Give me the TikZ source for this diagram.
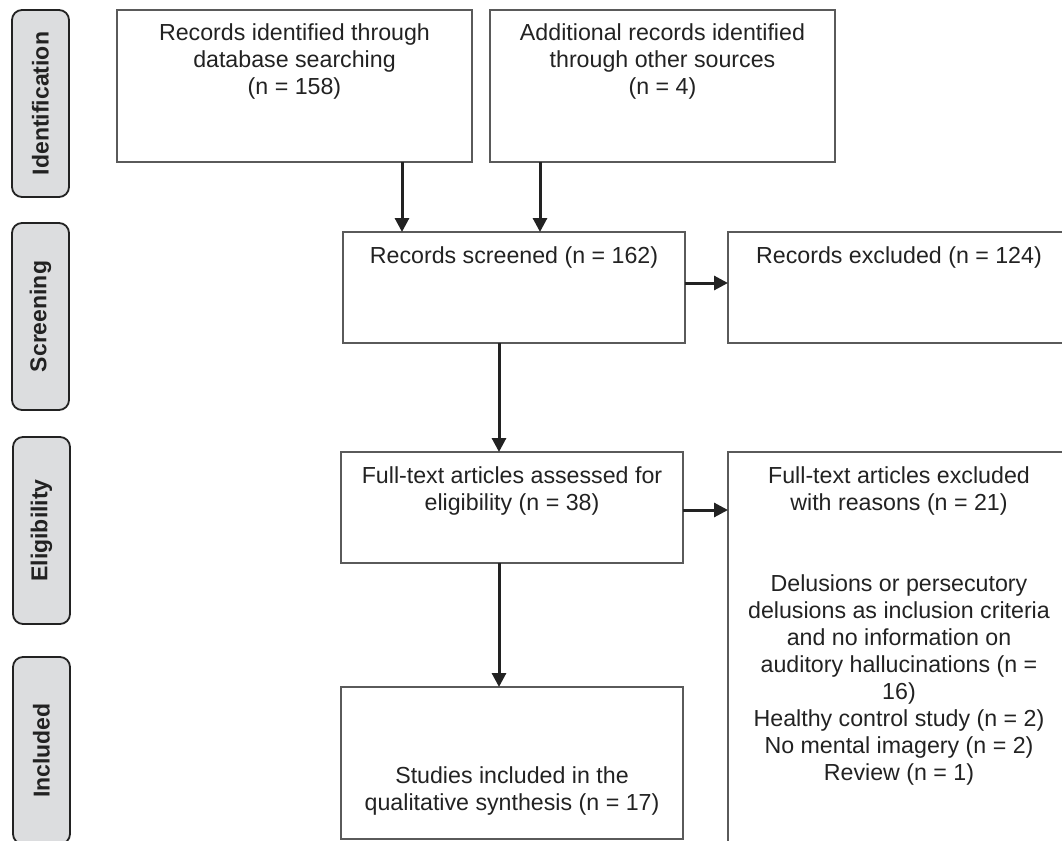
\documentclass[tikz,border=0pt]{standalone}
\usepackage{fontspec}
\setmainfont{Liberation Sans}
\usetikzlibrary{arrows.meta,positioning,calc}
\definecolor{stagegray}{HTML}{DCDDDF}
\definecolor{boxline}{HTML}{5A5A5A}
\definecolor{ink}{HTML}{222222}
\tikzset{
    stage/.style={draw=ink, fill=stagegray, line width=0.9pt, rounded corners=5pt, rotate=90,
                  minimum width=93.5pt, minimum height=28.5pt, inner sep=0pt,
                  text=ink, font=\bfseries\fontsize{11.5}{13.5}\selectfont},
    box/.style={draw=boxline, line width=0.9pt, minimum width=171pt, minimum height=55.5pt,
                inner sep=0pt, outer sep=0pt},
    boxtxt/.style={align=center, inner sep=0pt, text=ink, font=\fontsize{11.6}{13.5}\selectfont},
    arr/.style={draw=ink, line width=1.5pt, -{Triangle[length=7pt,width=7pt]}},
}
\begin{document}
\begin{tikzpicture}[x=0.5pt,y=-0.5pt]
  \clip (0,0) rectangle (1062,841);
  % stages on the left
  \node[stage] (ident) at (40.5,103.5) {Identification};
  \node[stage] (screen) at (40.5,316.5) {Screening};
  \node[stage] (elig) at (41.5,530.5) {Eligibility};
  \node[stage] (incl) at (41.5,750.5) {Included};

  % boxes
  \node[box, minimum width=177.5pt, minimum height=76pt] (db) at (294.5,86) {};
  \node[box, minimum width=172.5pt, minimum height=76pt] (other) at (662.5,86) {};
  \node[box] (scr) at (514,287.5) {};
  \node[box] (ex1) at (899,287.5) {};
  \node[box] (full) at (512,507.5) {};
  \node[box, minimum height=214pt] (ex2) at (899,666) {};
  \node[box, minimum height=76pt] (stud) at (512,763) {};

  % texts
  \node[boxtxt, below=6.5pt of db.north] (dbtxt) {Records identified through\\database searching\\(n = 158)};
  \node[boxtxt, below=6.5pt of other.north] (othertxt) {Additional records identified\\through other sources\\(n = 4)};
  \node[boxtxt, below=7pt of scr.north] (scrtxt) {Records screened (n = 162)};
  \node[boxtxt, below=7pt of ex1.north] (ex1txt) {Records excluded (n = 124)};
  \node[boxtxt, below=7pt of full.north] (fulltxt) {Full-text articles assessed for\\eligibility (n = 38)};
  \node[boxtxt, below=7pt of ex2.north] (ex2txt) {Full-text articles excluded\\with reasons (n = 21)\\[27pt]
    Delusions or persecutory\\delusions as inclusion criteria\\and no information on\\auditory hallucinations (n =\\16)\\
    Healthy control study (n = 2)\\No mental imagery (n = 2)\\Review (n = 1)};
  \node[boxtxt, below=39.5pt of stud.north] (studtxt) {Studies included in the\\qualitative synthesis (n = 17)};

  % arrows
  \coordinate (dbdrop) at (402,0);
  \coordinate (otherdrop) at (540,0);
  \coordinate (spine) at (499,0);
  \coordinate (row1) at (0,283);
  \coordinate (row2) at (0,510);
  \draw[arr] (db.south -| dbdrop) -- (scr.north -| dbdrop);
  \draw[arr] (other.south -| otherdrop) -- (scr.north -| otherdrop);
  \draw[arr] (scr.east |- row1) -- (ex1.west |- row1);
  \draw[arr] (scr.south -| spine) -- (full.north -| spine);
  \draw[arr] (full.east |- row2) -- (ex2.west |- row2);
  \draw[arr] (full.south -| spine) -- (stud.north -| spine);
\end{tikzpicture}
\end{document}
